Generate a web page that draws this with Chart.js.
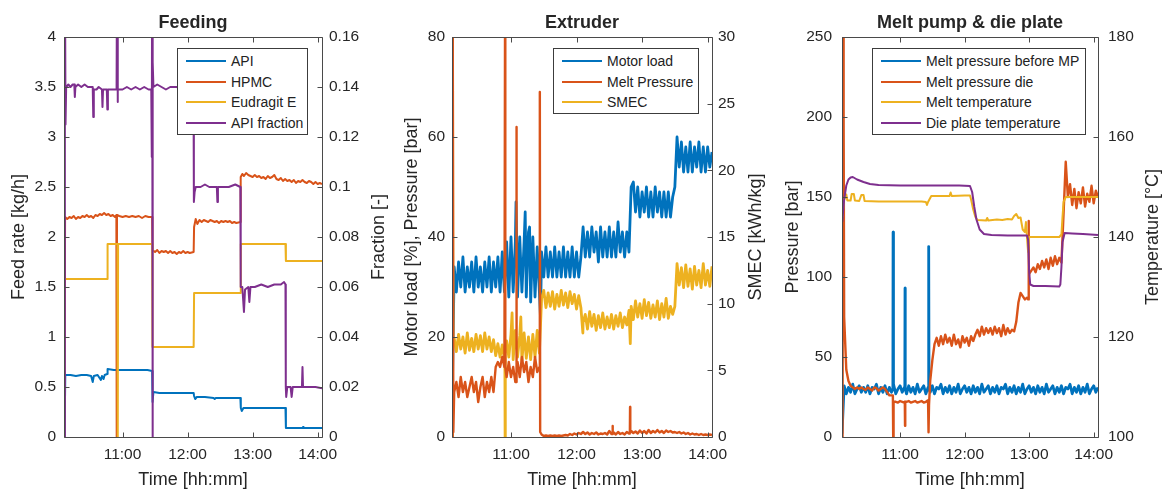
<!DOCTYPE html>
<html><head><meta charset="utf-8">
<script src="https://cdn.jsdelivr.net/npm/chart.js@4.4.0/dist/chart.umd.min.js"></script>
<style>
html,body{margin:0;padding:0;background:#fff;}
#wrap{position:relative;width:1165px;height:489px;overflow:hidden;background:#fff;}
canvas{position:absolute;top:0;}
.lg{position:absolute;box-sizing:border-box;border:1px solid #3c3c3c;background:#fff;padding-top:1.6px;font:14px 'Liberation Sans',Arial,sans-serif;color:#222;}
.lg .row{display:flex;align-items:center;height:20.7px;white-space:nowrap;}
.lg .ln{display:inline-block;width:40px;height:2px;margin-left:8px;margin-right:5px;}
</style></head>
<body><div id="wrap">
<canvas id="c1" width="400" height="489" style="left:0px;width:400px;height:489px"></canvas>
<canvas id="c2" width="390" height="489" style="left:395px;width:390px;height:489px"></canvas>
<canvas id="c3" width="395" height="489" style="left:770px;width:395px;height:489px"></canvas>
</div>
<script>
// ---------------- data ----------------
const X_MIN = 606, X_MAX = 844;            // minutes after midnight
const X_TICKS = [660, 720, 780, 840];       // 11:00 .. 14:00

const FEED_LTICKS = [0,0.5,1,1.5,2,2.5,3,3.5,4];
const FEED_RTICKS = [0,0.02,0.04,0.06,0.08,0.1,0.12,0.14,0.16];
const EXT_LTICKS = [0,20,40,60,80];
const EXT_RTICKS = [0,5,10,15,20,25,30];
const MP_LTICKS = [0,50,100,150,200,250];
const MP_RTICKS = [100,120,140,160,180];

const FEED_LABELS = ['API','HPMC','Eudragit E','API fraction'];
const EXT_LABELS = ['Motor load','Melt Pressure','SMEC'];
const MP_LABELS = ['Melt pressure before MP','Melt pressure die','Melt temperature','Die plate temperature'];

// Feeding panel: [time (min), value]
const FEED_API = [[606.5,0],[607.2,0.62],[612,0.62],[617,0.61],[622,0.62],[627,0.62],[631,0.61],[632.5,0.55],[633.5,0.61],[637,0.62],[640,0.57],[641,0.61],[642.5,0.58],[643.5,0.62],[645.8,0.63],[646.2,0.68],[652,0.67],[660,0.67],[668,0.67],[676,0.67],[683,0.67],[687.3,0.66],[687.7,0.35],[688.5,0.45],[694,0.44],[702,0.44],[710,0.44],[718,0.44],[725.6,0.44],[726,0.41],[727,0.38],[728.5,0.40],[736,0.40],[744,0.39],[745,0.38],[746,0.39],[756,0.39],[768.7,0.39],[769.1,0.29],[770,0.26],[771.5,0.29],[780,0.29],[790,0.29],[800,0.29],[810.3,0.29],[810.7,0.09],[818,0.09],[826,0.09],[826.5,0.1],[827,0.09],[836,0.09],[844,0.09]];
const FEED_HPMC = [[606.4,0],[607,2.2],[609,2.18],[611,2.2],[613,2.19],[615,2.21],[617,2.18],[619,2.2],[621,2.19],[623,2.21],[625,2.2],[627,2.22],[629,2.2],[631,2.21],[633,2.19],[635,2.22],[637,2.21],[639,2.23],[641,2.22],[643,2.24],[645,2.22],[647,2.23],[649,2.21],[651,2.22],[653,2.2],[654.3,2.22],[654.6,0],[654.9,2.22],[657,2.21],[660,2.2],[663,2.21],[666,2.2],[669,2.21],[672,2.2],[675,2.21],[678,2.19],[681,2.21],[684,2.2],[687.3,2.2],[687.6,1.87],[690,1.85],[692,1.87],[694,1.84],[696,1.86],[698,1.85],[700,1.86],[702,1.84],[704,1.86],[706,1.84],[708,1.85],[710,1.83],[712,1.85],[714,1.84],[716,1.86],[718,1.84],[720,1.85],[722,1.84],[725.6,1.85],[726,2.1],[727.5,2.18],[729,2.13],[731,2.17],[733,2.15],[735,2.17],[737,2.16],[739,2.15],[741,2.17],[743,2.16],[745,2.15],[747,2.16],[749,2.14],[751,2.16],[753,2.15],[755,2.16],[757,2.15],[759,2.16],[761,2.14],[763,2.15],[765,2.14],[768.7,2.15],[769,2.6],[770.5,2.63],[772,2.61],[774,2.64],[776,2.62],[778,2.61],[780,2.6],[782,2.62],[784,2.6],[786,2.61],[788,2.59],[790,2.6],[792,2.58],[794,2.61],[796,2.59],[798,2.6],[800,2.62],[802,2.58],[804,2.57],[806,2.59],[808,2.56],[810,2.58],[812,2.56],[814,2.57],[816,2.55],[818,2.57],[820,2.54],[822,2.56],[824,2.55],[826,2.57],[828,2.55],[830,2.54],[832,2.56],[834,2.55],[836,2.53],[838,2.55],[840,2.53],[842,2.54],[844,2.53]];
const FEED_EUD = [[607,1.58],[620,1.58],[635,1.58],[645.8,1.58],[646.2,1.93],[655.3,1.93],[655.6,0],[655.9,1.93],[665,1.93],[675,1.93],[687.3,1.93],[687.6,0.9],[700,0.9],[712,0.9],[725.6,0.9],[726,1.44],[740,1.44],[755,1.44],[768.7,1.44],[769.1,1.93],[780,1.93],[795,1.93],[810.3,1.93],[810.7,1.76],[825,1.76],[844,1.76]];
const FEED_FRAC = [[606.6,0],[606.8,0.2],[607.4,0.125],[608,0.140],[610,0.141],[612,0.140],[614,0.141],[615.5,0.141],[616,0.136],[616.5,0.140],[619,0.141],[622,0.140],[625,0.141],[628,0.140],[632.5,0.140],[633,0.128],[633.5,0.139],[636,0.139],[638,0.140],[641,0.139],[641.5,0.132],[642,0.139],[645.5,0.139],[646,0.131],[646.5,0.139],[650,0.139],[654.5,0.139],[655,0.2],[655.4,0.134],[655.8,0.139],[660,0.139],[664,0.140],[668,0.139],[672,0.140],[676,0.139],[680,0.140],[684,0.139],[686.5,0.139],[687,0.112],[687.3,0.2],[687.6,0],[688,0.15],[688.5,0.140],[692,0.141],[696,0.140],[700,0.139],[704,0.140],[710,0.140],[716,0.139],[722,0.140],[725.5,0.139],[725.8,0.094],[726.5,0.098],[727.5,0.1],[732,0.1],[736,0.101],[740,0.1],[747,0.1],[747.5,0.094],[748,0.1],[752,0.1],[758,0.1],[764,0.101],[768.7,0.1],[769,0.06],[770.5,0.06],[772,0.05],[773,0.059],[776,0.06],[777,0.054],[778,0.06],[782,0.06],[788,0.061],[794,0.06],[800,0.061],[806,0.061],[809,0.062],[810.3,0.061],[810.6,0.02],[811,0.016],[812,0.02],[815,0.02],[816,0.016],[817,0.02],[821,0.02],[825.5,0.02],[826,0.028],[826.5,0.02],[832,0.02],[838,0.02],[844,0.0195]];

// Extruder + melt pump panels: values sampled every 2 min from 10:06 to 14:04
const GRID_T = Array.from({length:120}, (_, i) => X_MIN + 2*i);
const EXT_MOTOR = [5,34,29,35,30,36,29,34,30,35, 29,36,30,34,29,35,30,36,29,35, 30,36,29,37,29,39,28,40,29,39, 28,40,29,39,28,41,27,40,28,38, 29,37,32,38,32,37,32,38,32,37, 32,38,32,37,32,38,32,37,32,36, 42,36,41,36,42,37,41,35,42,36, 41,36,42,36,41,36,43,37,41,36, 41,37,50,51,45,50,44,49,45,50, 44,49,44,50,45,49,44,49,44,49, 44,48,50,60,54,59,53,58,53,59, 53,58,54,59,53,58,53,58,54,57];
const EXT_MOTOR_SPIKES = [[664.6,47],[673,45],[677,42],[687,24],[812.5,60]];
const EXT_MELT = [0,9,11,8,12,9,11,8,10,12, 9,11,7,10,12,8,11,9,12,9, 14,15,14,16,14,12,15,12,14,11, 15,12,16,13,15,11,14,12,16,13, 14,0.5,0.2,0.3,0.2,0.3,0.2,0.3,0.2,0.3, 0.2,0.3,0.4,0.3,0.6,0.4,0.7,0.5,0.8,0.6, 1.0,0.6,0.9,0.5,0.8,0.6,0.9,0.5,0.7,0.6, 0.8,0.5,1.2,0.6,0.9,0.5,1.0,0.6,0.8,0.5, 1.0,0.7,1.2,0.8,1.1,0.7,1.3,0.8,1.2,0.7, 1.4,0.8,1.2,0.9,1.4,0.9,1.2,0.8,1.3,1.0, 1.2,0.9,1.0,0.8,1.0,0.7,0.9,0.6,0.8,0.5, 0.7,0.5,0.6,0.4,0.6,0.4,0.5,0.4,0.5,0.4];
const EXT_MELT_SPIKES = [[606.6,95],[607.2,1],[654.4,14],[654.6,90],[654.8,14],[664.8,11],[665,62],[665.2,15],[686.3,14],[686.5,69],[686.7,1],[752.8,0.6],[753,2.2],[753.2,0.6],[768.8,0.7],[769,6],[769.2,0.9]];
const EXT_SMEC = [0,7.4,6.4,7.7,6.6,7.5,6.3,7.8,6.5,7.4, 6.4,7.7,6.6,7.6,6.4,7.8,6.6,7.5,6.4,7.3, 6.1,7.0,6.0,6.9,5.8,7.2,6.0,7.7,5.8,8.0, 6.0,7.6,5.7,7.8,5.9,7.5,5.8,7.7,6.0,8.0, 6.3,10.4,11.0,9.7,10.8,9.8,10.9,9.6,10.7,9.8, 11.0,9.9,10.8,9.7,10.9,10.0,10.7,9.6,10.6,9.7, 8.6,9.2,8.1,9.4,8.3,9.2,8.0,9.1,8.2,9.3, 8.1,9.0,8.2,9.2,8.1,9.1,8.3,9.3,8.2,9.0, 8.4,9.5,9.8,8.8,10.2,9.0,10.0,8.9,10.3,9.1, 10.1,8.9,9.9,9.0,10.2,8.8,10.0,9.0,10.4,8.9, 9.8,9.2,9.8,13.0,11.4,12.7,11.2,12.9,11.3,12.6, 11.1,12.8,11.4,12.5,11.2,13.0,11.4,12.5,11.3,12.8];
const EXT_SMEC_SPIKES = [[606.4,35],[607,7],[654.4,6],[654.6,0],[654.8,6.5],[661,9.3],[669,9.0],[725.8,7.8],[769.2,7.0]];

const MP_BEFORE = [2, 32,27,31,28,33,27,30,32,28,31, 28,32,27,31,30,33,27,31,28,32, 27,31,28,33,27,30,32,28,31,27, 32,28,31,27,33,28,30,32,27,31, 28,32,27,31,30,33,27,31,28,32, 27,31,28,33,27,30,32,28,31,27, 32,28,31,27,33,28,30,32,27,31, 28,32,27,31,30,33,27,31,28,32, 27,31,28,33,27,30,32,28,31,27, 32,28,31,27,33,28,30,32,27,31, 28,32,27,31,30,33,27,31,28,32, 27,31,28,33,27,30,32,28,31];
const MP_BEFORE_SPIKES = [[653.3,30],[653.5,128],[653.7,30],[664.4,30],[664.6,93],[664.8,30],[686.5,30],[686.7,119],[686.9,30]];
const MP_DIE = [0,75,42,35,32,31,30,31,30,31, 30,29.5,31,30,29,31,30.5,29,30,31, 30,28,26,26,22,22,21.5,22.5,22,21.5, 22,22.5,21.5,22,22.5,21.5,22,22.5,21.5,22, 23,35,48,58,62,57,63,58,64,59, 62,57,64,58,61,56,63,59,62,57, 63,60,64,67,63,69,64,68,65,68, 64,69,65,68,63,70,64,68,65,67, 66,72,84,90,88,86,87,102,104,106, 103,108,105,110,106,111,105,112,107,113, 108,112,109,140,172,150,158,145,155,143, 153,146,156,144,152,147,157,146,154,150];
const MP_DIE_SPIKES = [[606.3,300],[606.7,0],[607.1,300],[607.5,200],[653.3,26],[653.6,0],[653.9,22],[664.4,22],[664.6,7],[664.8,22],[686.3,23],[686.6,3],[686.9,20],[779,86],[779.4,135],[779.8,100]];
const MP_MELT_T = [[606.3,144],[607,145.5],[608,147.5],[610,148.5],[611,147.3],[614,147.3],[615,148.6],[617,148.6],[618,147.3],[622,147.2],[624,148.4],[626,148.4],[627,147.2],[640,147.1],[660,147.1],[680,147.1],[684,147.0],[685,146.4],[686,147.0],[688,147.8],[689,148.2],[700,148.2],[706,148.2],[707,148.9],[708,148.2],[720,148.3],[725,148.3],[726,147.5],[728,145.5],[730,144.0],[732,143.4],[740,143.3],[741,143.8],[742,143.3],[750,143.5],[755,143.4],[760,143.6],[764,143.5],[766,144.2],[768,144.6],[770,143.8],[772,143.9],[774,141.5],[776,141.0],[777,143],[778,139.8],[779,137],[780,140.0],[790,140.0],[800,140.0],[808,140.0],[810,140.5],[811,144],[812,147],[814,148],[844,148]];
const MP_DIE_T = [[606.3,143],[607,145],[608,147.5],[610,150.3],[612,151.5],[614,151.9],[616,152],[620,151.5],[626,151],[632,150.6],[640,150.4],[660,150.3],[680,150.3],[700,150.3],[715,150.3],[725,150.2],[727,149],[729,146],[731,143.5],[734,141.5],[738,140.6],[745,140.4],[760,140.3],[778,140.3],[779,139.5],[780,133],[781,130.5],[784,130.2],[795,130.2],[808,130.1],[809,130.5],[810,134],[811,139],[813,140.8],[820,140.7],[830,140.6],[844,140.4]];

// ---------------- helpers ----------------
const FONT = "'Liberation Sans', Arial, Helvetica, sans-serif";
const TXT = '#262626', AXC = '#4a4a4a';
const BLUE = '#0072BD', ORANGE = '#D95319', YELLOW = '#EDB120', PURPLE = '#7E2F8E';

function pairs(arr){ return arr.map(([x,y]) => ({x, y})); }
function gridSeries(vals, extra){
  const pts = vals.map((v,i) => ({x: GRID_T[i], y: v}));
  (extra || []).forEach(([x,y]) => pts.push({x, y}));
  pts.sort((a,b) => a.x - b.x);
  return pts;
}
function hhmm(v){ const h = Math.floor(v/60), m = Math.round(v - h*60); return h + ':' + String(m).padStart(2,'0'); }
function num(v){ return String(+Number(v).toFixed(4)); }

const framePlugin = {
  id: 'frame',
  afterDatasetsDraw(chart, args, o){
    const {ctx, chartArea: a, scales} = chart;
    const r = v => Math.round(v) + 0.5, L = 5;
    ctx.save();
    ctx.strokeStyle = AXC; ctx.lineWidth = 1;
    ctx.beginPath();
    const l = r(a.left), t = r(a.top), rr = r(a.right), b = r(a.bottom);
    ctx.rect(l, t, rr - l, b - t);
    scales.x.ticks.forEach(tk => { const p = r(scales.x.getPixelForValue(tk.value));
      ctx.moveTo(p, b); ctx.lineTo(p, b - L); ctx.moveTo(p, t); ctx.lineTo(p, t + L); });
    scales.y.ticks.forEach(tk => { const p = r(scales.y.getPixelForValue(tk.value));
      ctx.moveTo(l, p); ctx.lineTo(l + L, p); });
    scales.y1.ticks.forEach(tk => { const p = r(scales.y1.getPixelForValue(tk.value));
      ctx.moveTo(rr, p); ctx.lineTo(rr - L, p); });
    ctx.stroke();
    ctx.fillStyle = TXT; ctx.textAlign = 'center'; ctx.textBaseline = 'middle';
    ctx.font = 'bold 18px ' + FONT;
    ctx.fillText(o.title, (a.left + a.right)/2, 23);
    ctx.font = '18px ' + FONT;
    ctx.translate(a.right + o.rdx, (a.top + a.bottom)/2);
    ctx.rotate(-Math.PI/2);
    ctx.fillText(o.rtitle, 0, 0);
    ctx.restore();
  }
};

function yScale(pos, min, max, ticks, width, pad, title, tpad){
  return {
    position: pos, min, max, bounds: 'data',
    afterBuildTicks: s => { s.ticks = ticks.map(v => ({value: v})); },
    afterFit: s => { s.width = width; },
    grid: {display: false, drawTicks: false}, border: {display: false},
    ticks: {font: {family: FONT, size: 15.5}, color: TXT, padding: pad, callback: v => num(v)},
    title: title ? {display: true, text: title, color: TXT, font: {family: FONT, size: 18, lineHeight: 1.2}, padding: {top: tpad, bottom: 0}} : {display: false}
  };
}

function makeChart(id, cfg){
  const n = cfg.series.length;
  return new Chart(document.getElementById(id), {
    type: 'line',
    data: { datasets: cfg.series.map((s,i) => ({
      label: s.label, data: s.data, borderColor: s.color, backgroundColor: s.color,
      yAxisID: s.axis, borderWidth: s.w || 2, pointRadius: 0, fill: false, tension: 0, order: n - i,
      borderJoinStyle: 'round'
    }))},
    options: {
      responsive: false, animation: false, devicePixelRatio: 1, events: [],
      layout: {padding: {top: 37, left: 0, right: 0, bottom: 0}},
      plugins: {legend: {display: false}, tooltip: {enabled: false}, title: {display: false},
        frame: {title: cfg.title, rtitle: cfg.rtitle, rdx: cfg.rdx}},
      scales: {
        x: {type: 'linear', min: X_MIN, max: X_MAX, bounds: 'data',
          afterBuildTicks: s => { s.ticks = X_TICKS.map(v => ({value: v})); },
          afterFit: s => { s.height = 52; },
          grid: {display: false, drawTicks: false}, border: {display: false},
          ticks: {font: {family: FONT, size: 15.5}, color: TXT, padding: 8.5, maxRotation: 0, autoSkip: false, callback: v => hhmm(v)},
          title: {display: true, text: 'Time [hh:mm]', color: TXT, font: {family: FONT, size: 18, lineHeight: 1.0}, padding: {top: 0, bottom: 0}}},
        y: cfg.y, y1: cfg.y1
      }
    },
    plugins: [framePlugin]
  });
}

function legend(left, top, width, height, labels, colors){
  const d = document.createElement('div'); d.className = 'lg';
  Object.assign(d.style, {left: left+'px', top: top+'px', width: width+'px', height: height+'px'});
  labels.forEach((lab, i) => {
    const row = document.createElement('div'); row.className = 'row';
    const ln = document.createElement('span'); ln.className = 'ln'; ln.style.background = colors[i];
    const tx = document.createElement('span'); tx.textContent = lab;
    row.appendChild(ln); row.appendChild(tx); d.appendChild(row);
  });
  document.getElementById('wrap').appendChild(d);
}

// ---------------- charts ----------------
const FEED_COLORS = [BLUE, ORANGE, YELLOW, PURPLE];
makeChart('c1', {
  title: 'Feeding', rtitle: 'Fraction [-]', rdx: 57,
  series: [
    {label: FEED_LABELS[0], data: pairs(FEED_API), color: BLUE, axis: 'y'},
    {label: FEED_LABELS[1], data: pairs(FEED_HPMC), color: ORANGE, axis: 'y'},
    {label: FEED_LABELS[2], data: pairs(FEED_EUD), color: YELLOW, axis: 'y'},
    {label: FEED_LABELS[3], data: pairs(FEED_FRAC), color: PURPLE, axis: 'y1'}
  ],
  y: yScale('left', 0, 4, FEED_LTICKS, 64, 8, 'Feed rate [kg/h]', 8.2),
  y1: yScale('right', 0, 0.16, FEED_RTICKS, 78, 7, null)
});

const EXT_COLORS = [BLUE, ORANGE, YELLOW];
makeChart('c2', {
  title: 'Extruder', rtitle: 'SMEC [kWh/kg]', rdx: 44,
  series: [
    {label: EXT_LABELS[0], data: gridSeries(EXT_MOTOR, EXT_MOTOR_SPIKES), color: BLUE, axis: 'y', w: 2.8},
    {label: EXT_LABELS[2], data: gridSeries(EXT_SMEC, EXT_SMEC_SPIKES), color: YELLOW, axis: 'y1', w: 2.8},
    {label: EXT_LABELS[1], data: gridSeries(EXT_MELT, EXT_MELT_SPIKES), color: ORANGE, axis: 'y', w: 2.4}
  ],
  y: yScale('left', 0, 80, EXT_LTICKS, 57, 7, 'Motor load [%], Pressure [bar]', 6.4),
  y1: yScale('right', 0, 30, EXT_RTICKS, 73, 6, null)
});

const MP_COLORS = [BLUE, ORANGE, YELLOW, PURPLE];
makeChart('c3', {
  title: 'Melt pump & die plate', rtitle: 'Temperature [°C]', rdx: 55,
  series: [
    {label: MP_LABELS[0], data: gridSeries(MP_BEFORE, MP_BEFORE_SPIKES), color: BLUE, axis: 'y', w: 2.8},
    {label: MP_LABELS[1], data: gridSeries(MP_DIE, MP_DIE_SPIKES), color: ORANGE, axis: 'y', w: 2.4},
    {label: MP_LABELS[2], data: pairs(MP_MELT_T), color: YELLOW, axis: 'y1'},
    {label: MP_LABELS[3], data: pairs(MP_DIE_T), color: PURPLE, axis: 'y1'}
  ],
  y: yScale('left', 0, 250, MP_LTICKS, 72, 10, 'Pressure [bar]', 12.4),
  y1: yScale('right', 100, 180, MP_RTICKS, 67, 10, null)
});

legend(177, 48, 131, 87, FEED_LABELS, FEED_COLORS);
legend(553, 48, 146, 66, EXT_LABELS, EXT_COLORS);
legend(872, 48, 214, 87, MP_LABELS, MP_COLORS);
</script>
</body></html>
